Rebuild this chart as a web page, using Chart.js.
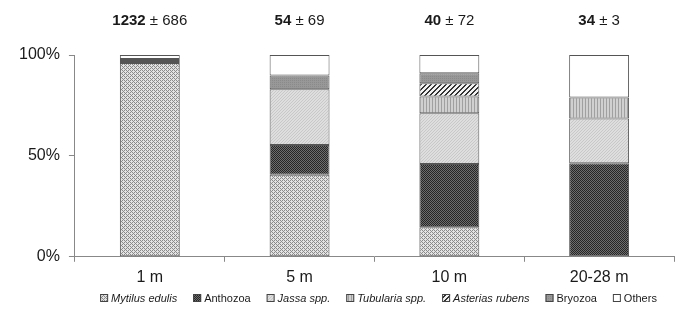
<!DOCTYPE html>
<html>
<head>
<meta charset="utf-8">
<script src="https://cdn.jsdelivr.net/npm/chart.js@4.4.1/dist/chart.umd.min.js"></script>
<style>
html,body{margin:0;padding:0;background:#fff;}
#wrap{width:681px;height:325px;position:relative;}
</style>
</head>
<body>
<div id="wrap"><canvas id="c" width="681" height="325"></canvas></div>
<script>
const categories = ['1 m', '5 m', '10 m', '20-28 m'];
const mytilus   = [96, 40.6, 14.7, 0];
const anthozoa  = [0.5, 14.8, 31.3, 46.4];
const jassa     = [0.5, 27.6, 25.1, 22.1];
const tubularia = [0, 0, 8.3, 10.5];
const asterias  = [0, 0, 6.6, 0];
const bryozoa   = [1, 6.8, 5, 0];
const others    = [2, 10.2, 9, 21];
const countMean = ['1232', '54', '40', '34'];
const countSd   = ['686', '69', '72', '3'];
const seriesNames = ['Mytilus edulis', 'Anthozoa', 'Jassa spp.', 'Tubularia spp.', 'Asterias rubens', 'Bryozoa', 'Others'];
const italicFlags = [true, false, true, true, true, false, false];
const yTicks = [0, 50, 100];

const FONT = '"Liberation Sans", Arial, sans-serif';

function makePattern(size, draw) {
  const c = document.createElement('canvas');
  c.width = size; c.height = size;
  const x = c.getContext('2d');
  draw(x, size);
  return x.createPattern(c, 'repeat');
}
const ctx0 = document.getElementById('c').getContext('2d');
const patterns = [
  // Mytilus: grey diamond checker
  makePattern(4, (x) => {
    x.fillStyle = '#e2e2e2'; x.fillRect(0,0,4,4);
    x.fillStyle = '#8a8a8a';
    x.fillRect(0,0,1,1); x.fillRect(1,1,1,1); x.fillRect(2,2,1,1); x.fillRect(3,3,1,1);
    x.fillRect(2,0,1,1); x.fillRect(0,2,1,1);
  }),
  // Anthozoa: dark checker
  makePattern(2, (x) => {
    x.fillStyle = '#6e6e6e'; x.fillRect(0,0,2,2);
    x.fillStyle = '#262626'; x.fillRect(0,0,1,1); x.fillRect(1,1,1,1);
  }),
  // Jassa: light fine dots
  makePattern(3, (x) => {
    x.fillStyle = '#dedede'; x.fillRect(0,0,3,3);
    x.fillStyle = '#c8c8c8'; x.fillRect(0,0,1,1); x.fillRect(2,1,1,1); x.fillRect(1,2,1,1);
  }),
  // Tubularia: vertical lines
  makePattern(3, (x) => {
    x.fillStyle = '#d0d0d0'; x.fillRect(0,0,3,3);
    x.fillStyle = '#a0a0a0'; x.fillRect(0,0,1,3);
  }),
  // Asterias: diagonal stripes
  makePattern(5, (x) => {
    x.fillStyle = '#f2f2f2'; x.fillRect(0,0,5,5);
    x.fillStyle = '#333333';
    for (let i = 0; i < 5; i++) { x.fillRect((i) % 5, 4 - i, 1, 1); x.fillRect((i + 1) % 5, 4 - i, 1, 1); }
  }),
  // Bryozoa: medium grey
  makePattern(2, (x) => {
    x.fillStyle = '#989898'; x.fillRect(0,0,2,2);
    x.fillStyle = '#8a8a8a'; x.fillRect(0,0,1,1);
  }),
  // Others: white
  '#ffffff'
];

const seriesData = [mytilus, anthozoa, jassa, tubularia, asterias, bryozoa, others];
const datasets = seriesData.map((d, i) => ({
  label: seriesNames[i],
  data: d,
  backgroundColor: patterns[i],
  borderColor: '#555555',
  borderWidth: 1,
  borderSkipped: false,
  categoryPercentage: 1.0,
  barPercentage: 0.4
}));

const topLabels = {
  id: 'topLabels',
  afterDraw(chart) {
    const ctx = chart.ctx;
    const meta = chart.getDatasetMeta(0);
    ctx.save();
    ctx.textBaseline = 'alphabetic';
    ctx.fillStyle = '#1a1a1a';
    meta.data.forEach((bar, i) => {
      const bold = 'bold 15px ' + FONT;
      const norm = '15px ' + FONT;
      const a = countMean[i];
      const b = ' \u00b1 ' + countSd[i];
      ctx.font = bold; const wa = ctx.measureText(a).width;
      ctx.font = norm; const wb = ctx.measureText(b).width;
      const x0 = bar.x - (wa + wb) / 2;
      ctx.font = bold; ctx.textAlign = 'left'; ctx.fillText(a, x0, 25);
      ctx.font = norm; ctx.fillText(b, x0 + wa, 25);
    });
    ctx.restore();
  }
};

const legendPlugin = {
  id: 'customLegend',
  afterDraw(chart) {
    const ctx = chart.ctx;
    ctx.save();
    const box = 8, gapText = 3, gapItem = 16, y = 302;
    const widths = seriesNames.map((n, i) => {
      ctx.font = (italicFlags[i] ? 'italic ' : '') + '11px ' + FONT;
      return box + gapText + ctx.measureText(n).width;
    });
    const total = widths.reduce((s, w) => s + w, 0) + gapItem * (widths.length - 1);
    let x = (chart.width - total) / 2 + 38;
    seriesNames.forEach((n, i) => {
      ctx.fillStyle = patterns[i];
      ctx.fillRect(x, y - 8, box, box);
      ctx.strokeStyle = '#444';
      ctx.lineWidth = 1;
      ctx.strokeRect(x + 0.5, y - 7.5, box - 1, box - 1);
      ctx.font = (italicFlags[i] ? 'italic ' : '') + '11px ' + FONT;
      ctx.fillStyle = '#1a1a1a';
      ctx.textAlign = 'left';
      ctx.textBaseline = 'alphabetic';
      ctx.fillText(n, x + box + gapText, y);
      x += widths[i] + gapItem;
    });
    ctx.restore();
  }
};

new Chart(ctx0, {
  type: 'bar',
  data: { labels: categories, datasets },
  options: {
    responsive: false,
    animation: false,
    layout: { padding: { top: 55, left: 10, right: 7, bottom: 32 } },
    plugins: { legend: { display: false }, tooltip: { enabled: false } },
    scales: {
      x: {
        stacked: true,
        grid: { display: true, drawOnChartArea: false, drawTicks: true, tickLength: 5, color: '#888', offset: true },
        border: { display: true, color: '#888', width: 1 },
        ticks: { color: '#1a1a1a', font: { family: FONT, size: 16 }, padding: 6 }
      },
      y: {
        stacked: true,
        min: 0, max: 100,
        afterBuildTicks(axis) { axis.ticks = yTicks.map(v => ({ value: v })); },
        grid: { display: true, drawOnChartArea: false, drawTicks: true, tickLength: 6, color: '#888' },
        border: { display: true, color: '#888', width: 1 },
        ticks: { color: '#1a1a1a', font: { family: FONT, size: 16 }, padding: 9, callback: v => v + '%' }
      }
    }
  },
  plugins: [topLabels, legendPlugin]
});
</script>
</body>
</html>
